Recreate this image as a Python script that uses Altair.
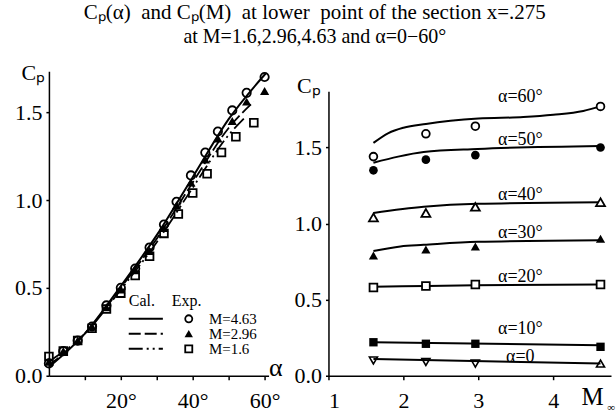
import altair as alt
import pandas as pd

FONT = "Liberation Serif"

# ---------------- Left panel: Cp vs alpha ----------------
alpha_exp = [0, 4, 8, 12, 16, 20, 24, 28, 32, 35.5, 39.5, 43.5, 47, 51, 55, 60]
cp_exp_463 = [0.07, 0.14, 0.20, 0.28, 0.40, 0.50, 0.61, 0.73, 0.86, 0.99, 1.14, 1.27, 1.39, 1.51, 1.61, 1.70]
cp_exp_296 = [0.08, 0.14, 0.20, 0.28, 0.39, 0.49, 0.60, 0.71, 0.84, 0.97, 1.10, 1.23, 1.35, 1.45, 1.56, 1.62]
alpha_exp_16 = [0, 4, 8, 12, 16, 20, 24, 28, 32, 36, 40, 44, 48, 52, 57]
cp_exp_16 = [0.11, 0.14, 0.20, 0.27, 0.38, 0.47, 0.57, 0.68, 0.81, 0.92, 1.04, 1.15, 1.27, 1.36, 1.44]

alpha_cal_463 = [0, 10, 20, 30, 40, 50, 60.3]
cp_cal_463 = [0.05, 0.24, 0.51, 0.80, 1.13, 1.46, 1.72]
alpha_cal_296 = [0, 10, 20, 30, 40, 50, 57]
cp_cal_296 = [0.06, 0.24, 0.50, 0.78, 1.10, 1.41, 1.56]
alpha_cal_16 = [0, 10, 20, 30, 40, 50, 55]
cp_cal_16 = [0.08, 0.24, 0.49, 0.76, 1.07, 1.37, 1.48]

legend_labels = ["M=4.63", "M=2.96", "M=1.6"]

# ---------------- Right panel: Cp vs Mach ----------------
mach_exp = [1.6, 2.3, 2.96, 4.63]
cp_a60 = [1.44, 1.59, 1.64, 1.77]
cp_a50 = [1.35, 1.42, 1.45, 1.50]
cp_a40 = [1.04, 1.07, 1.11, 1.14]
cp_a30 = [0.79, 0.83, 0.85, 0.90]
cp_a20 = [0.58, 0.59, 0.60, 0.60]
cp_a10 = [0.22, 0.21, 0.21, 0.19]
cp_a0 = [0.10, 0.09, 0.08, 0.08]
shape_a0 = ["triangle-down", "triangle-down", "triangle-down", "triangle-up"]

mach_cal_a60 = [1.6, 1.8, 2.0, 2.3, 3.0, 3.6, 4.0, 4.4, 4.63]
cal_a60 = [1.53, 1.595, 1.63, 1.655, 1.69, 1.70, 1.715, 1.74, 1.77]
mach_cal_a50 = [1.6, 1.93, 2.27, 2.99, 4.63]
cal_a50 = [1.40, 1.44, 1.47, 1.49, 1.51]
mach_cal_a40 = [1.6, 2.27, 2.99, 4.63]
cal_a40 = [1.07, 1.11, 1.13, 1.14]
mach_cal_a30 = [1.6, 1.96, 2.27, 2.99, 4.63]
cal_a30 = [0.82, 0.85, 0.86, 0.88, 0.89]
mach_cal_a20 = [1.6, 2.3, 2.96, 4.63]
cal_a20 = [0.585, 0.59, 0.595, 0.60]
mach_cal_a10 = [1.6, 4.63]
cal_a10 = [0.22, 0.20]
mach_cal_a0 = [1.6, 4.63]
cal_a0 = [0.11, 0.08]

angle_labels = ["α=60°", "α=50°", "α=40°", "α=30°", "α=20°", "α=10°", "α=0"]
angle_label_m = [3.56, 3.56, 3.56, 3.56, 3.56, 3.56, 3.56]
angle_label_cp = [1.83, 1.55, 1.19, 0.94, 0.65, 0.31, 0.12]

BLACK = "black"
NB = "\u00a0"

# ---------- left panel layers ----------
xL = alt.X("a:Q", scale=alt.Scale(domain=[0, 61.1], nice=False, zero=False),
           axis=alt.Axis(values=[10, 20, 30, 40, 50, 60],
                         labelExpr="datum.value % 20 == 0 ? datum.value + '°' : ''",
                         title="α", titleX=220, titleY=0, titleAlign="left",
                         titleBaseline="alphabetic", titleFontSize=26,
                         tickSize=4, labelPadding=11))
yL = alt.Y("c:Q", scale=alt.Scale(domain=[0, 1.733], nice=False),
           axis=alt.Axis(values=[0, 0.5, 1.0, 1.5], format=".1f",
                         title="Cₚ", titleAngle=0, titleX=-28, titleY=8,
                         titleAlign="left", titleBaseline="alphabetic",
                         titleFontSize=22, tickSize=3, labelPadding=4))

def df(xs, ys):
    return pd.DataFrame({"a": xs, "c": ys})

line463 = alt.Chart(df(alpha_cal_463, cp_cal_463)).mark_line(
    color=BLACK, strokeWidth=2, interpolate="monotone").encode(x=xL, y=yL)
line296 = alt.Chart(df(alpha_cal_296, cp_cal_296)).mark_line(
    color=BLACK, strokeWidth=1.8, strokeDash=[12, 4], interpolate="monotone").encode(x="a:Q", y="c:Q")
line16 = alt.Chart(df(alpha_cal_16, cp_cal_16)).mark_line(
    color=BLACK, strokeWidth=1.8, strokeDash=[14, 4, 2, 4, 2, 4], interpolate="monotone").encode(x="a:Q", y="c:Q")

pts463 = alt.Chart(df(alpha_exp, cp_exp_463)).mark_point(
    shape="circle", filled=False, color=BLACK, strokeWidth=1.8, size=70, opacity=1).encode(x="a:Q", y="c:Q")
pts296 = alt.Chart(df(alpha_exp, cp_exp_296)).mark_point(
    shape="triangle-up", filled=True, color=BLACK, size=85, opacity=1).encode(x="a:Q", y="c:Q")
pts16 = alt.Chart(df(alpha_exp_16, cp_exp_16)).mark_point(
    shape="square", filled=False, color=BLACK, strokeWidth=1.8, size=60, opacity=1).encode(x="a:Q", y="c:Q")

# legend (drawn inside the plot)
leg_x0, leg_x1, leg_mx, leg_tx = 22.2, 31.7, 38.9, 44.5
leg_rows = [0.324, 0.239, 0.153]
leg_df = pd.DataFrame({"label": legend_labels, "c": leg_rows,
                       "x0": [leg_x0] * 3, "x1": [leg_x1] * 3,
                       "mx": [leg_mx] * 3, "tx": [leg_tx] * 3})
dashes = [[1, 0], [12, 4], [14, 4, 2, 4, 2, 4]]
shapes_leg = ["circle", "triangle-up", "square"]
fills_leg = [False, True, False]
sizes_leg = [50, 70, 50]
leg_layers = []
for i in range(3):
    row = leg_df.iloc[[i]]
    leg_layers.append(alt.Chart(row).mark_rule(color=BLACK, strokeWidth=2, strokeDash=dashes[i])
                      .encode(x="x0:Q", x2="x1:Q", y="c:Q"))
    leg_layers.append(alt.Chart(row).mark_point(shape=shapes_leg[i], filled=fills_leg[i], color=BLACK,
                                                strokeWidth=1.8, size=sizes_leg[i], opacity=1)
                      .encode(x="mx:Q", y="c:Q"))
leg_text = alt.Chart(leg_df).mark_text(align="left", baseline="middle", font=FONT, fontSize=15,
                                       color=BLACK).encode(x="tx:Q", y="c:Q", text="label:N")
head_df = pd.DataFrame({"t": ["Cal.", "Exp."], "a": [22.2, 34.2], "c": [0.426, 0.426]})
leg_head = alt.Chart(head_df).mark_text(align="left", baseline="middle", font=FONT, fontSize=16,
                                        color=BLACK).encode(x="a:Q", y="c:Q", text="t:N")

left = alt.layer(line463, line296, line16, pts463, pts296, pts16, *leg_layers, leg_text, leg_head
                 ).properties(width=220, height=305)

# ---------- right panel layers ----------
xR = alt.X("m:Q", scale=alt.Scale(domain=[1, 4.77], nice=False, zero=False),
           axis=alt.Axis(values=[1, 2, 3, 4], format="d",
                         title="M", titleX=253, titleY=29, titleAlign="left",
                         titleBaseline="alphabetic", titleFontSize=25,
                         tickSize=4, labelPadding=11))
yR = alt.Y("c:Q", scale=alt.Scale(domain=[0, 1.87], range=[305, 20], nice=False),
           axis=alt.Axis(values=[0, 0.5, 1.0, 1.5], format=".1f",
                         title="Cₚ", titleAngle=0, titleX=-32, titleY=21,
                         titleAlign="left", titleBaseline="alphabetic",
                         titleFontSize=22, tickSize=3, labelPadding=4))

def dfm(xs, ys):
    return pd.DataFrame({"m": xs, "c": ys})

cal_sets = [(mach_cal_a60, cal_a60), (mach_cal_a50, cal_a50), (mach_cal_a40, cal_a40),
            (mach_cal_a30, cal_a30), (mach_cal_a20, cal_a20), (mach_cal_a10, cal_a10),
            (mach_cal_a0, cal_a0)]
right_layers = []
for i, (mx, cy) in enumerate(cal_sets):
    enc = dict(x=xR, y=yR) if i == 0 else dict(x="m:Q", y="c:Q")
    right_layers.append(alt.Chart(dfm(mx, cy)).mark_line(color=BLACK, strokeWidth=2,
                                                         interpolate="monotone").encode(**enc))

exp_sets = [(cp_a60, "circle", False, 60), (cp_a50, "circle", True, 75),
            (cp_a40, "triangle-up", False, 80), (cp_a30, "triangle-up", True, 85),
            (cp_a20, "square", False, 60), (cp_a10, "square", True, 70)]
for cy, shp, fill, sz in exp_sets:
    right_layers.append(alt.Chart(dfm(mach_exp, cy)).mark_point(
        shape=shp, filled=fill, color=BLACK, fill=BLACK if fill else "white",
        strokeWidth=1.8, size=sz, opacity=1, fillOpacity=1).encode(x="m:Q", y="c:Q"))
a0_df = pd.DataFrame({"m": mach_exp, "c": cp_a0, "s": shape_a0})
right_layers.append(alt.Chart(a0_df).mark_point(
    filled=False, color=BLACK, strokeWidth=1.6, size=65, opacity=1).encode(
    x="m:Q", y="c:Q",
    shape=alt.Shape("s:N", scale=alt.Scale(domain=["triangle-down", "triangle-up"],
                                           range=["triangle-down", "triangle-up"]), legend=None)))

lab_df = pd.DataFrame({"t": angle_labels, "m": angle_label_m, "c": angle_label_cp})
right_layers.append(alt.Chart(lab_df).mark_text(font=FONT, fontSize=18, color=BLACK, align="center",
                                                baseline="middle").encode(x="m:Q", y="c:Q", text="t:N"))
inf_df = pd.DataFrame({"t": ["∞"], "m": [4.72], "c": [-0.21]})
right_layers.append(alt.Chart(inf_df).mark_text(font=FONT, fontSize=11, color=BLACK, align="left",
                                                baseline="middle").encode(x="m:Q", y="c:Q", text="t:N"))

right = alt.layer(*right_layers).properties(width=283, height=305)

title_line1 = f"Cₚ(α){NB}{NB}and{NB}Cₚ(M){NB}{NB}at lower{NB}{NB}point of the section x=.275"
title_line2 = "at M=1.6,2.96,4.63 and α=0−60°"

chart = alt.hconcat(left, right, spacing=60, bounds="flush").properties(
    title=alt.TitleParams(
        text=title_line1, subtitle=title_line2,
        font=FONT, fontSize=21, fontWeight="normal", color=BLACK, anchor="middle",
        subtitleFont=FONT, subtitleFontSize=20, subtitleColor=BLACK, subtitlePadding=4,
        offset=14),
    padding={"left": 14, "top": 2, "right": 0, "bottom": 0},
).configure_view(stroke=None).configure_axis(
    labelFont=FONT, labelFontSize=22, labelColor=BLACK, titleFont=FONT, titleColor=BLACK,
    titleFontWeight="normal", domainColor=BLACK, domainWidth=1.5, tickColor=BLACK,
    tickWidth=1.5, grid=False
)

chart.save("out.html", embed_options={"renderer": "svg", "actions": False})
